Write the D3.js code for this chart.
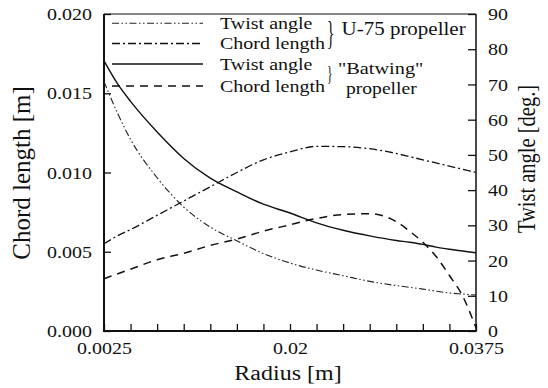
<!DOCTYPE html>
<html>
<head>
<meta charset="utf-8">
<script src="https://cdn.jsdelivr.net/npm/d3@7/dist/d3.min.js"></script>
<style>
  html, body { margin: 0; padding: 0; background: #fff; }
  svg { display: block; }
</style>
</head>
<body>
<svg id="chart" width="548" height="388"></svg>
<script>
// ---------------- data ----------------
const radius = [0.0025, 0.00375, 0.005, 0.0075, 0.01, 0.0125, 0.015, 0.0175, 0.02,
                0.0225, 0.025, 0.0275, 0.03, 0.03125, 0.0325, 0.03375, 0.035, 0.03625, 0.0375];
// U-75 propeller
const u75Twist  = [70.8, 62.0, 54.4, 43.5, 35.2, 29.5, 25.6, 22.0, 19.3,
                   17.3, 15.7, 14.1, 12.9, 12.4, 11.9, 11.3, 10.8, 10.5, 10.2];
const u75Chord  = [0.0055, 0.0060, 0.0064, 0.0073, 0.0082, 0.0091, 0.0100, 0.0108, 0.0113,
                   0.01165, 0.01163, 0.0115, 0.0112, 0.0110, 0.0108, 0.0106, 0.0104, 0.0102, 0.0100];
// "Batwing" propeller
const batTwist  = [76.7, 70.3, 65.2, 56.5, 49.0, 43.4, 39.5, 36.0, 33.5,
                   30.7, 28.6, 27.0, 25.7, 25.2, 24.6, 23.8, 23.2, 22.7, 22.2];
const batChord  = [0.0033, 0.0036, 0.0039, 0.0045, 0.0049, 0.0054, 0.0058, 0.0063, 0.0067,
                   0.0071, 0.00735, 0.0074, 0.0069, 0.0063, 0.0056, 0.0047, 0.0035, 0.0022, 0.0002];

const radiusTicks  = [0.0025, 0.005, 0.0075, 0.01, 0.0125, 0.015, 0.0175, 0.02,
                      0.0225, 0.025, 0.0275, 0.03, 0.0325, 0.035, 0.0375];
const radiusLabels = [0.0025, 0.02, 0.0375];
const chordTicks   = [0, 0.005, 0.010, 0.015, 0.020];
const angleTicks   = [0, 10, 20, 30, 40, 50, 60, 70, 80, 90];

const legendLabels = ["Twist angle", "Chord length", "Twist angle", "Chord length"];
const groupLabels  = ["U-75 propeller", "\"Batwing\"", "propeller"];

// ---------------- font priming ----------------
const FONT = "'Liberation Serif', Tinos, 'Times New Roman', monospace";
(function prime() {
  const c = document.createElement("canvas").getContext("2d");
  [19, 20, 21, 24, 25, 34].forEach(s => {
    c.font = `${s}px 'Liberation Serif', monospace`;
    c.measureText("Twist angle Chord length Radius [m] 0.0123456789 U-75 propeller \"Batwing\" }");
  });
})();

// ---------------- layout ----------------
const svg = d3.select("#chart");
const L = 104, R = 476, T = 14, B = 331;

const x  = d3.scaleLinear().domain([0.0025, 0.0375]).range([L, R]);
const yL = d3.scaleLinear().domain([0, 0.02]).range([B, T]);
const yR = d3.scaleLinear().domain([0, 90]).range([B, T]);

const series = [
  { vals: u75Twist, y: yR, dash: "7,2.5,1.5,2.5,1.5,2.5", w: 1.1, color: "#222" },
  { vals: u75Chord, y: yL, dash: "8,3,2,3",               w: 1.3, color: "#111" },
  { vals: batTwist, y: yR, dash: null,                     w: 1.4, color: "#111" },
  { vals: batChord, y: yL, dash: "8,6",                    w: 1.5, color: "#111" }
];

// ---------------- axes ----------------
function styleAxis(g) {
  g.attr("font-family", FONT);
  g.select(".domain").remove();
  g.selectAll(".tick line").attr("stroke", "#111").attr("stroke-width", 1.3);
  g.selectAll(".tick text").attr("font-size", 20).attr("fill", "#111")
    .attr("font-family", FONT);
}

const gL = svg.append("g").attr("transform", `translate(${L},0)`)
  .call(d3.axisLeft(yL).tickValues(chordTicks).tickFormat(d3.format(".3f"))
        .tickSize(-7).tickPadding(12));
styleAxis(gL);
gL.selectAll(".tick text").attr("transform", "scale(1,0.87)");

const gR = svg.append("g").attr("transform", `translate(${R},0)`)
  .call(d3.axisRight(yR).tickValues(angleTicks).tickFormat(d3.format("d"))
        .tickSize(-8).tickPadding(12));
styleAxis(gR);
gR.selectAll(".tick text").attr("transform", "scale(1,0.87)");

const gB = svg.append("g").attr("transform", `translate(0,${B})`)
  .call(d3.axisBottom(x).tickValues(radiusTicks)
        .tickFormat(d => radiusLabels.includes(d) ? String(d) : "")
        .tickSize(-7));
styleAxis(gB);
gB.selectAll(".tick text").attr("y", 0).attr("dy", 0)
  .attr("transform", "translate(0,23) scale(1,0.87)");

// frame
svg.append("line").attr("x1", L).attr("x2", L).attr("y1", T).attr("y2", B + 1)
  .attr("stroke", "#111").attr("stroke-width", 2);
svg.append("line").attr("x1", L - 1).attr("x2", R).attr("y1", B).attr("y2", B)
  .attr("stroke", "#111").attr("stroke-width", 2);
svg.append("line").attr("x1", R).attr("x2", R).attr("y1", T).attr("y2", B + 1)
  .attr("stroke", "#111").attr("stroke-width", 1.5);
svg.append("line").attr("x1", L).attr("x2", R).attr("y1", T).attr("y2", T)
  .attr("stroke", "#111").attr("stroke-width", 1);

// ---------------- curves ----------------
series.forEach(s => {
  const line = d3.line()
    .x((d, i) => x(radius[i]))
    .y(d => s.y(d))
    .curve(d3.curveMonotoneX);
  svg.append("path").datum(s.vals)
    .attr("d", line)
    .attr("fill", "none")
    .attr("stroke", s.color)
    .attr("stroke-width", s.w)
    .attr("stroke-dasharray", s.dash);
});

// ---------------- axis titles ----------------
function txt(g) {
  return g.append("text").attr("font-family", FONT).attr("fill", "#111");
}
txt(svg).attr("transform", "translate(288,380) scale(1,0.9)")
  .attr("text-anchor", "middle").attr("font-size", 24)
  .text("Radius [m]");

txt(svg).attr("transform", "translate(30,173) rotate(-90)")
  .attr("text-anchor", "middle").attr("font-size", 25)
  .text("Chord length [m]");

txt(svg).attr("transform", "translate(535,159) rotate(-90) scale(1,1.18)")
  .attr("text-anchor", "middle").attr("font-size", 20.5)
  .text("Twist angle [deg.]");

// ---------------- legend ----------------
const legendY = [23.3, 43.5, 64, 86];
const leg = svg.append("g");
series.forEach((s, i) => {
  leg.append("line")
    .attr("x1", 112).attr("x2", 203)
    .attr("y1", legendY[i]).attr("y2", legendY[i])
    .attr("stroke", s.color).attr("stroke-width", s.w)
    .attr("stroke-dasharray", s.dash);
  txt(leg).attr("transform", `translate(220,${legendY[i] + 5.5}) scale(1,0.87)`)
    .attr("font-size", 20)
    .text(legendLabels[i]);
});
// braces
txt(leg).attr("transform", "translate(327,44) scale(0.45,1)")
  .attr("font-size", 34).text("}");
txt(leg).attr("transform", "translate(327,79.5) scale(0.55,1)")
  .attr("font-size", 21).text("}");
// group labels
txt(leg).attr("transform", "translate(341.5,35) scale(1,0.87)")
  .attr("font-size", 21).text(groupLabels[0]);
txt(leg).attr("transform", "translate(338,74) scale(1,0.87)")
  .attr("font-size", 20.3).text(groupLabels[1]);
txt(leg).attr("transform", "translate(346,94) scale(1,0.87)")
  .attr("font-size", 19.6).text(groupLabels[2]);
</script>
</body>
</html>
